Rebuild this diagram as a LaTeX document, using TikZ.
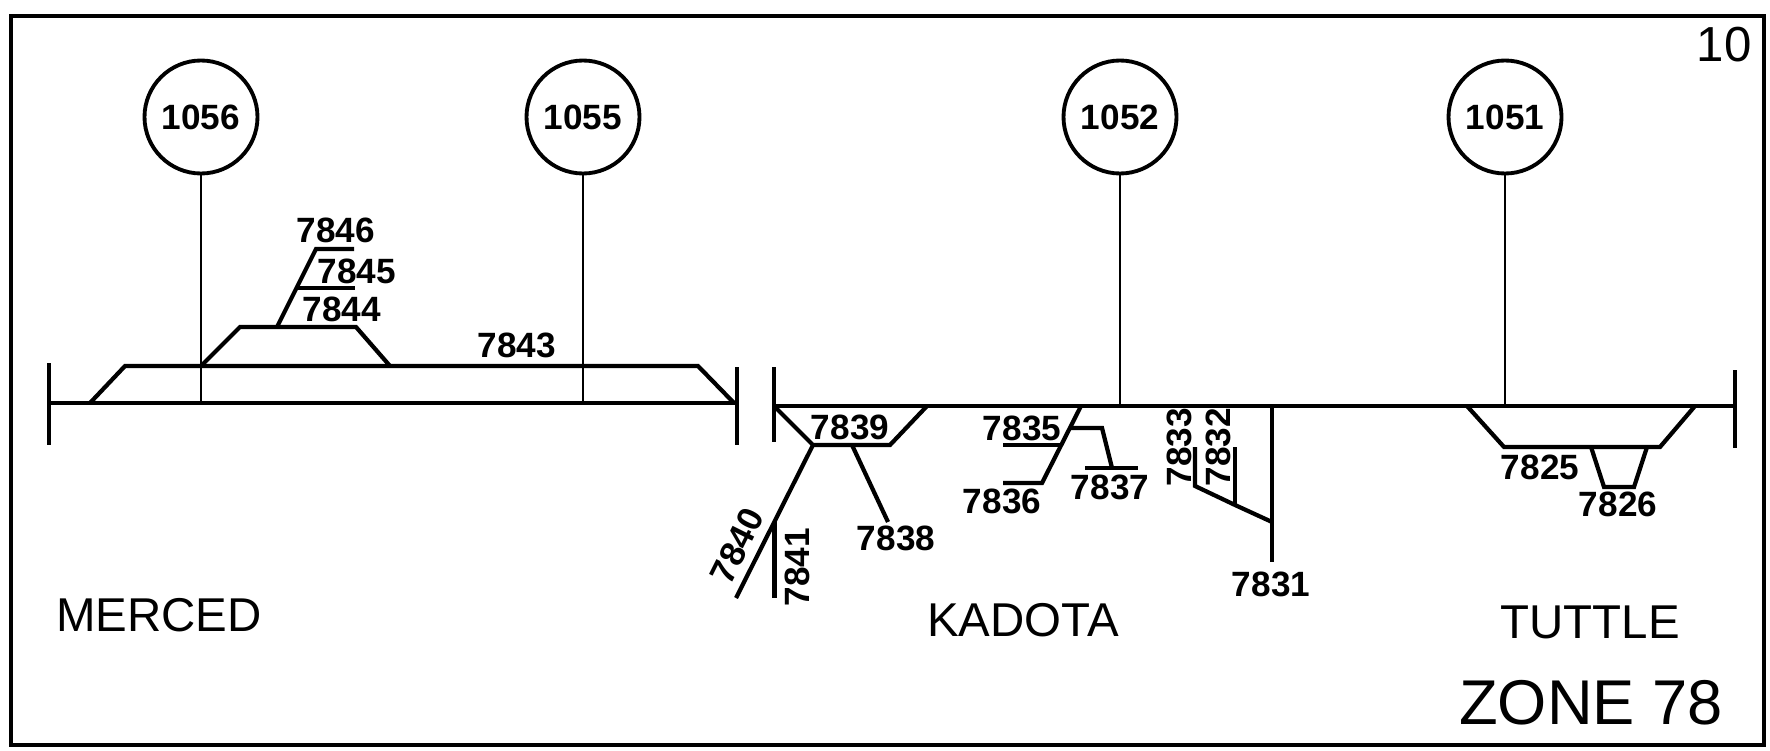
\documentclass[tikz,border=0pt]{standalone}
\usepackage{fontspec}
\setmainfont{Liberation Sans}
\usetikzlibrary{positioning}

\begin{document}
\begin{tikzpicture}[
  track/.style={line width=1.2pt, line join=miter},
  stem/.style={line width=0.8pt},
  station/.style={draw, circle, line width=1.1pt, minimum size=1.13cm, inner sep=0pt,
    font=\fontsize{10}{12}\selectfont\bfseries},
  num/.style={font=\fontsize{10}{12}\selectfont\bfseries, inner sep=0pt},
  place/.style={font=\fontsize{13.5}{16}\selectfont, inner sep=0pt}]

\useasboundingbox (0,0) rectangle (17.7,7.5);

% Frame
\draw[line width=1.1pt] (0.11,0.05) rectangle (17.64,7.34);
\node[font=\fontsize{14}{16}\selectfont, inner sep=0pt] (sheet) at (17.24,7.05) {10};

% --- Stations ---
\node[station] (c1056) at (2.01,6.33) {1056};
\node[station] (c1055) at (5.83,6.33) {1055};
\node[station] (c1052) at (11.20,6.33) {1052};
\node[station] (c1051) at (15.05,6.33) {1051};

\coordinate (t1056) at (2.01,3.47);
\coordinate (t1055) at (5.83,3.47);
\coordinate (t1052) at (11.20,3.44);
\coordinate (t1051) at (15.05,3.44);

\draw[stem] (c1056) -- (t1056);
\draw[stem] (c1055) -- (t1055);
\draw[stem] (c1052) -- (t1052);
\draw[stem] (c1051) -- (t1051);

% --- Merced track ---
\draw[track] (0.49,3.47) -- (7.37,3.47);
\draw[track] (0.49,3.87) -- (0.49,3.05);
\draw[track] (7.37,3.83) -- (7.37,3.05);
\draw[track] (0.90,3.47) -- (1.25,3.84) -- (6.98,3.84) -- (7.34,3.47);
\draw[track] (2.01,3.84) -- (2.40,4.23) -- (3.56,4.23) -- (3.90,3.84);
\draw[track] (2.77,4.23) -- (3.16,5.01) -- (3.54,5.01);
\draw[track] (2.965,4.62) -- (3.55,4.62);

\node[num] (l7846) at (3.36,5.20) {7846};
\node[num] (l7845) at (3.57,4.79) {7845};
\node[num] (l7844) at (3.42,4.41) {7844};
\node[num] (l7843) at (5.17,4.05) {7843};

% --- Kadota / Tuttle track ---
\draw[track] (7.74,3.44) -- (17.35,3.44);
\draw[track] (7.74,3.83) -- (7.74,3.08);
\draw[track] (17.35,3.80) -- (17.35,3.02);

% 7838 - 7841
\draw[track] (7.74,3.44) -- (8.13,3.05) -- (8.90,3.05) -- (9.27,3.44);
\draw[track] (8.52,3.05) -- (8.88,2.28);
\draw[track] (8.13,3.05) -- (7.36,1.52);
\draw[track] (7.745,2.285) -- (7.745,1.52);
\node[num] (l7839) at (8.50,3.23) {7839};
\node[num] (l7838) at (8.96,2.12) {7838};
\node[num, rotate=63.5] (l7840) at (7.37,2.04) {7840};
\node[num, rotate=90] (l7841) at (7.97,1.83) {7841};

% 7835 - 7837
\draw[track] (10.81,3.44) -- (10.42,2.67) -- (10.03,2.67);
\draw[track] (10.61,3.05) -- (10.03,3.05);
\draw[track] (10.70,3.22) -- (11.02,3.22) -- (11.12,2.82);
\draw[track] (10.85,2.82) -- (11.38,2.82);
\node[num] (l7835) at (10.22,3.22) {7835};
\node[num] (l7836) at (10.02,2.49) {7836};
\node[num] (l7837) at (11.10,2.63) {7837};

% 7831 - 7833
\draw[track] (12.72,3.44) -- (12.72,1.88);
\draw[track] (12.72,2.28) -- (12.35,2.45) -- (11.95,2.64) -- (11.95,3.03);
\draw[track] (12.35,2.45) -- (12.35,3.03);
\node[num] (l7831) at (12.71,1.66) {7831};
\node[num, rotate=90] (l7833) at (11.79,3.03) {7833};
\node[num, rotate=90] (l7832) at (12.18,3.03) {7832};

% 7825 - 7826
\draw[track] (14.67,3.44) -- (15.04,3.03) -- (16.60,3.03) -- (16.95,3.44);
\draw[track] (15.91,3.03) -- (16.04,2.63) -- (16.34,2.63) -- (16.47,3.03);
\node[num] (l7825) at (15.40,2.83) {7825};
\node[num] (l7826) at (16.18,2.46) {7826};

% --- Place names ---
\node[place] (merced) at (1.59,1.35) {MERCED};
\node[place] (kadota) at (10.23,1.30) {KADOTA};
\node[place] (tuttle) at (15.90,1.28) {TUTTLE};
\node[font=\fontsize{18}{20}\selectfont, inner sep=0pt] (zone) at (15.91,0.47) {ZONE 78};

\end{tikzpicture}
\end{document}
